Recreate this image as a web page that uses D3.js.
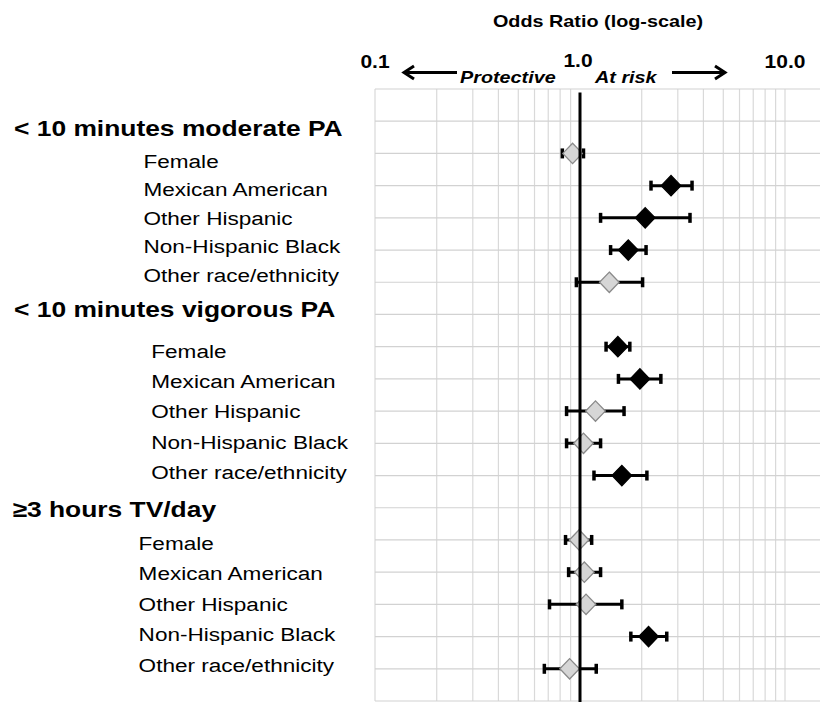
<!DOCTYPE html>
<html>
<head>
<meta charset="utf-8">
<script src="https://cdn.jsdelivr.net/npm/d3@7/dist/d3.min.js"></script>
<style>
  html, body { margin: 0; padding: 0; background: #fff; }
  svg { display: block; }
  text { font-family: "Liberation Sans", Arial, Helvetica, sans-serif; fill: #000; }
</style>
</head>
<body>
<svg id="chart" width="820" height="702"></svg>
<script>
// ---------------- data ----------------
const groups = ["< 10 minutes moderate PA", "< 10 minutes vigorous PA", "\u22653 hours TV/day"];
const categories = ["Female", "Mexican American", "Other Hispanic", "Non-Hispanic Black", "Other race/ethnicity"];

const orModerate = [0.92, 2.78, 2.08, 1.72, 1.39];
const loModerate = [0.82, 2.22, 1.26, 1.41, 0.96];
const hiModerate = [1.04, 3.52, 3.44, 2.10, 2.02];
const sigModerate = [false, true, true, true, false];

const orVigorous = [1.53, 1.96, 1.19, 1.04, 1.60];
const loVigorous = [1.34, 1.54, 0.86, 0.86, 1.17];
const hiVigorous = [1.75, 2.48, 1.64, 1.26, 2.12];
const sigVigorous = [true, true, false, false, true];

const orTV = [0.99, 1.05, 1.07, 2.16, 0.89];
const loTV = [0.85, 0.88, 0.71, 1.77, 0.67];
const hiTV = [1.14, 1.26, 1.60, 2.65, 1.20];
const sigTV = [false, false, false, true, false];

const tickLabels = [{v: 0.1, t: "0.1"}, {v: 1, t: "1.0"}, {v: 10, t: "10.0"}];
const axisTitle = "Odds Ratio (log-scale)";
const leftText = "Protective";
const rightText = "At risk";

// ---------------- layout ----------------
const W = 820, H = 702;
const plotLeft = 375, plotTop = 89, plotBottom = 701, plotRight = W;
const SX = 1.2; // horizontal text stretch of the original
const svg = d3.select("#chart");

const x = d3.scaleLog().domain([0.1, 10]).range([plotLeft, 785]);
const nRows = 19;
const y = d3.scaleLinear().domain([0, nRows]).range([plotTop, plotBottom]);

const series = [
  {or: orModerate, lo: loModerate, hi: hiModerate, sig: sigModerate},
  {or: orVigorous, lo: loVigorous, hi: hiVigorous, sig: sigVigorous},
  {or: orTV, lo: loTV, hi: hiTV, sig: sigTV}
];
const points = [];
series.forEach((s, g) => {
  categories.forEach((c, k) => {
    points.push({g, k, row: 2 + g * 6 + k, or: s.or[k], lo: s.lo[k], hi: s.hi[k], sig: s.sig[k]});
  });
});

// label placement (hand-placed text boxes in the original)
const headerLayout = [{x: 14, y: 136}, {x: 14, y: 316.5}, {x: 12.5, y: 516.5}];
const subLayout = [{x: 143.5, y0: 168, dy: 28.4}, {x: 151.3, y0: 358, dy: 30.2}, {x: 138.6, y0: 550, dy: 30.4}];

function stretchedText(sel, tx, ty, str, opts) {
  return sel.append("text")
    .attr("transform", `translate(${tx},${ty}) scale(${SX},1)`)
    .attr("text-anchor", opts.anchor || "start")
    .style("font-size", opts.size + "px")
    .style("font-weight", opts.weight || "normal")
    .style("font-style", opts.style || "normal")
    .text(str);
}

// ---------------- grid ----------------
const grid = svg.append("g");
grid.selectAll("line.v").data(x.ticks().filter(d => Math.abs(d - 1) > 1e-9))
  .join("line").attr("class", "v")
  .attr("x1", d => x(d)).attr("x2", d => x(d))
  .attr("y1", plotTop).attr("y2", plotBottom)
  .attr("stroke", "#d9d9d9").attr("stroke-width", 1.2);
grid.selectAll("line.h").data(d3.range(0, nRows + 1))
  .join("line").attr("class", "h")
  .attr("x1", plotLeft).attr("x2", plotRight)
  .attr("y1", d => y(d)).attr("y2", d => y(d))
  .attr("stroke", "#d2d2d2").attr("stroke-width", 1.2);

// ---------------- error bars ----------------
const bars = svg.append("g");
bars.selectAll("line.ci").data(points).join("line").attr("class", "ci")
  .attr("x1", d => x(d.lo)).attr("x2", d => x(d.hi))
  .attr("y1", d => y(d.row)).attr("y2", d => y(d.row))
  .attr("stroke", "#000").attr("stroke-width", 3);
const caps = [];
points.forEach(p => { caps.push({v: p.lo, row: p.row}); caps.push({v: p.hi, row: p.row}); });
bars.selectAll("line.cap").data(caps).join("line").attr("class", "cap")
  .attr("x1", d => x(d.v)).attr("x2", d => x(d.v))
  .attr("y1", d => y(d.row) - 5).attr("y2", d => y(d.row) + 5)
  .attr("stroke", "#000").attr("stroke-width", 3.5);

// ---------------- diamonds ----------------
const dw = 9.8, dh = 10.2;
svg.append("g").selectAll("path").data(points).join("path")
  .attr("d", d => {
    const cx = x(d.or), cy = y(d.row);
    return `M${cx},${cy - dh}L${cx + dw},${cy}L${cx},${cy + dh}L${cx - dw},${cy}Z`;
  })
  .attr("fill", d => d.sig ? "#000" : "#d6d6d6")
  .attr("stroke", d => d.sig ? "#000" : "#8a8a8a")
  .attr("stroke-width", 1.3);

// ---------------- reference line at 1.0 ----------------
svg.append("line")
  .attr("x1", x(1)).attr("x2", x(1))
  .attr("y1", plotTop + 3.5).attr("y2", H)
  .attr("stroke", "#000").attr("stroke-width", 3);

// ---------------- top axis text ----------------
stretchedText(svg, 598, 27, axisTitle, {size: 16.5, weight: "bold", anchor: "middle"});
tickLabels.forEach(d => {
  stretchedText(svg, x(d.v) + (d.v === 1 ? -2 : 0), d.v === 1 ? 66.8 : 68.3, d.t, {size: 17.5, weight: "bold", anchor: "middle"});
});
stretchedText(svg, 460, 83.3, leftText, {size: 16.5, weight: "bold", style: "italic"});
stretchedText(svg, 595, 83.3, rightText, {size: 16.5, weight: "bold", style: "italic"});

// arrows
const ay = 72.5;
svg.append("path").attr("d", `M404,${ay}L457,${ay}`).attr("stroke", "#000").attr("stroke-width", 3).attr("fill", "none");
svg.append("path").attr("d", `M414,${ay - 6.5}L404,${ay}L414,${ay + 6.5}`).attr("stroke", "#000").attr("stroke-width", 3).attr("fill", "none");
svg.append("path").attr("d", `M672,${ay}L725,${ay}`).attr("stroke", "#000").attr("stroke-width", 3).attr("fill", "none");
svg.append("path").attr("d", `M715,${ay - 6.5}L725,${ay}L715,${ay + 6.5}`).attr("stroke", "#000").attr("stroke-width", 3).attr("fill", "none");

// ---------------- row labels ----------------
groups.forEach((gname, g) => {
  stretchedText(svg, headerLayout[g].x, headerLayout[g].y, gname, {size: 22, weight: "bold"});
  categories.forEach((c, k) => {
    stretchedText(svg, subLayout[g].x, subLayout[g].y0 + k * subLayout[g].dy, c, {size: 18.8});
  });
});
</script>
</body>
</html>
